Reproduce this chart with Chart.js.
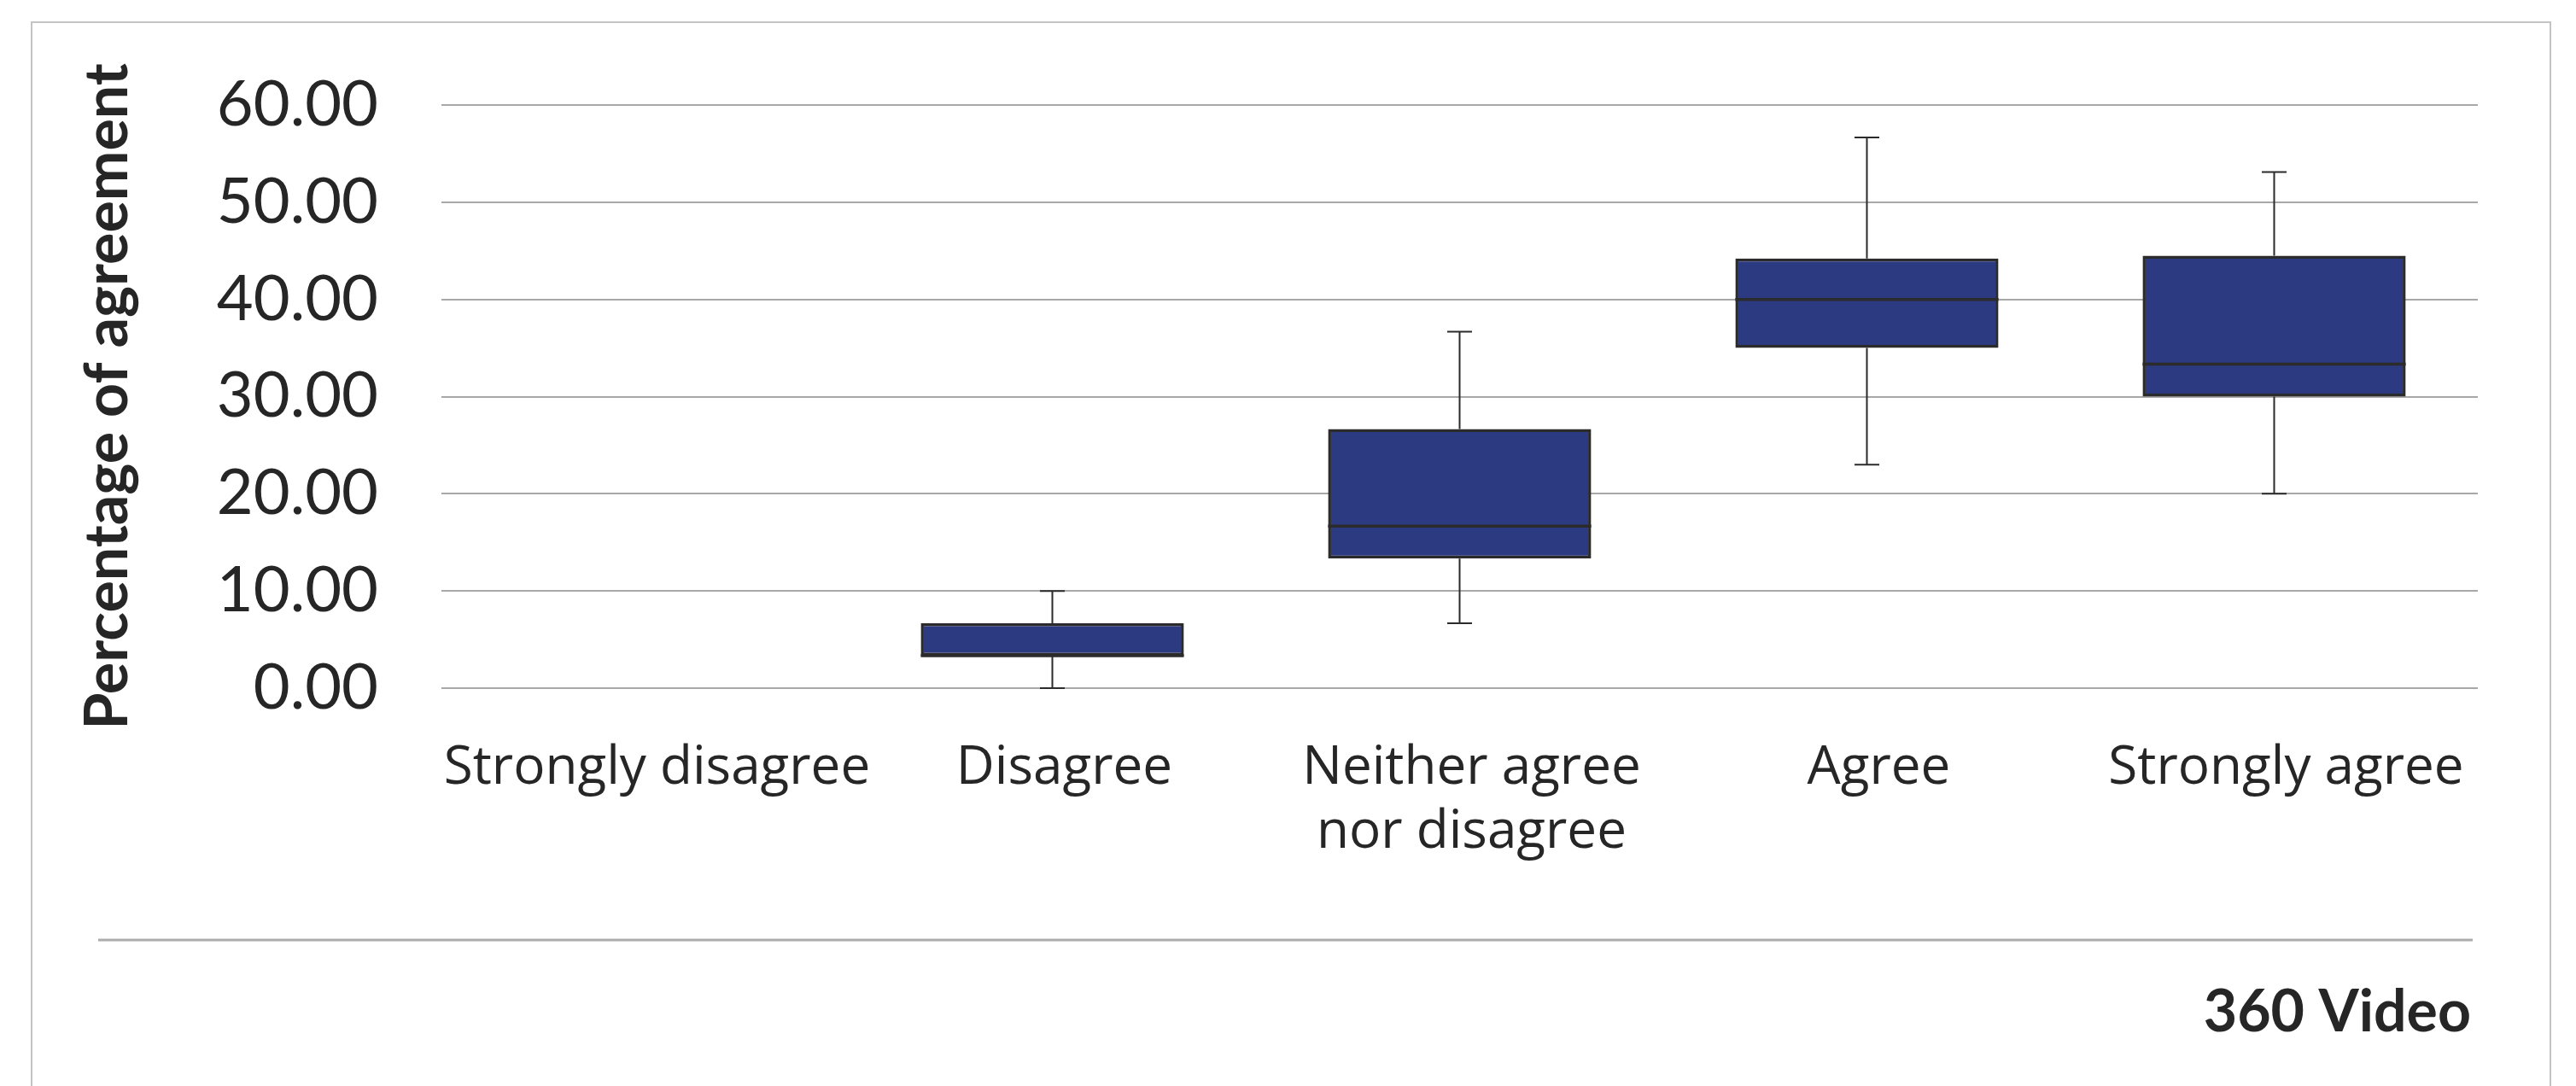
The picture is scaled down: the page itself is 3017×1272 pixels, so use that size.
<!DOCTYPE html>
<html><head><meta charset="utf-8">
<script src="https://cdn.jsdelivr.net/npm/chart.js@4.4.0/dist/chart.umd.min.js"></script>
<style>html,body{margin:0;padding:0;background:#fff;overflow:hidden}</style>
</head><body>
<canvas id="c" width="3017" height="1272" style="display:block;width:3017px;height:1272px"></canvas>
<script>
// ---- data ----
const categories = ['Strongly disagree', 'Disagree', ['Neither agree', 'nor disagree'], 'Agree', 'Strongly agree'];
const minValues    = [0, 0.00, 6.67, 23.00, 20.00];
const q1Values     = [0, 3.33, 13.33, 35.00, 30.00];
const medianValues = [0, 3.33, 16.67, 40.00, 33.33];
const q3Values     = [0, 6.67, 26.67, 44.20, 44.50];
const maxValues    = [0, 10.00, 36.67, 56.67, 53.10];
const yTicks = [0, 10, 20, 30, 40, 50, 60];
const yTitle = 'Percentage of agreement';
const footerLabel = '360 Video';

const FONT = 'Lato, "Open Sans", sans-serif';
const LABEL_FONT = '"Open Sans", Lato, sans-serif';
const TEXT = '#262626';
const BOX_FILL = '#2C3A82';
const EDGE = '#2B2B2B';

const boxPlugin = {
  id: 'boxparts',
  beforeDatasetsDraw(chart) {
    const ctx = chart.ctx, y = chart.scales.y, meta = chart.getDatasetMeta(0);
    ctx.save();
    ctx.strokeStyle = EDGE; ctx.lineWidth = 2;
    meta.data.forEach((bar, i) => {
      if (maxValues[i] === minValues[i]) return;
      const x = bar.x, cap = 14.5;
      const yMax = y.getPixelForValue(maxValues[i]), yMin = y.getPixelForValue(minValues[i]);
      const yQ3 = y.getPixelForValue(q3Values[i]), yQ1 = y.getPixelForValue(q1Values[i]);
      ctx.beginPath();
      ctx.moveTo(x, yMax); ctx.lineTo(x, yQ3);
      ctx.moveTo(x, yQ1); ctx.lineTo(x, yMin);
      ctx.moveTo(x - cap, yMax); ctx.lineTo(x + cap, yMax);
      ctx.moveTo(x - cap, yMin); ctx.lineTo(x + cap, yMin);
      ctx.stroke();
    });
    ctx.restore();
  },
  afterDatasetsDraw(chart) {
    const ctx = chart.ctx, y = chart.scales.y, meta = chart.getDatasetMeta(0);
    ctx.save();
    ctx.strokeStyle = EDGE; ctx.lineWidth = 3.5;
    meta.data.forEach((bar, i) => {
      if (q3Values[i] === q1Values[i]) return;
      const ym = y.getPixelForValue(medianValues[i]);
      const half = bar.width / 2;
      ctx.beginPath();
      ctx.moveTo(bar.x - half, ym); ctx.lineTo(bar.x + half, ym);
      ctx.stroke();
    });
    ctx.restore();
  }
};

const framePlugin = {
  id: 'frame',
  beforeDraw(chart) {
    const ctx = chart.ctx;
    ctx.save();
    ctx.fillStyle = '#ffffff';
    ctx.fillRect(0, 0, chart.width, chart.height);
    ctx.strokeStyle = '#c4c4c4'; ctx.lineWidth = 2;
    ctx.strokeRect(37, 26, 2950, 1300);
    ctx.restore();
  },
  afterDraw(chart) {
    const ctx = chart.ctx;
    ctx.save();
    ctx.strokeStyle = '#acacac'; ctx.lineWidth = 3;
    ctx.beginPath(); ctx.moveTo(115, 1101); ctx.lineTo(2896, 1101); ctx.stroke();
    ctx.fillStyle = TEXT;
    ctx.font = 'bold 68px ' + FONT;
    ctx.textAlign = 'right'; ctx.textBaseline = 'alphabetic';
    ctx.fillText(footerLabel, 2894, 1208);
    ctx.restore();
  }
};

new Chart(document.getElementById('c'), {
  type: 'bar',
  data: {
    labels: categories,
    datasets: [{
      data: q1Values.map((q, i) => [q, q3Values[i]]),
      backgroundColor: BOX_FILL,
      borderColor: EDGE,
      borderWidth: 3.5,
      borderSkipped: false,
      categoryPercentage: 1,
      barPercentage: 0.646
    }]
  },
  options: {
    responsive: false,
    devicePixelRatio: 1,
    animation: false,
    events: [],
    layout: { padding: { top: 123, right: 115, bottom: 0, left: 0 } },
    plugins: { legend: { display: false }, tooltip: { enabled: false }, title: { display: false } },
    scales: {
      x: {
        grid: { display: false, drawTicks: false },
        border: { display: false },
        ticks: { color: TEXT, font: { family: LABEL_FONT, size: 62, lineHeight: 1.21 }, padding: 57, labelOffset: 14, maxRotation: 0, autoSkip: false },
        afterFit(scale) { scale.height = 1272 - 806; }
      },
      y: {
        min: 0, max: 60,
        afterBuildTicks(scale) { scale.ticks = yTicks.map(v => ({ value: v })); },
        grid: { color: '#a8a8a8', lineWidth: 2, drawTicks: false },
        border: { display: false },
        ticks: { color: TEXT, font: { family: FONT, size: 74 }, padding: 74, callback: v => Number(v).toFixed(2) },
        title: { display: true, text: yTitle, color: TEXT, font: { family: FONT, size: 70, weight: 'bold', lineHeight: 1.2 }, padding: { top: 84, bottom: 0 } },
        afterFit(scale) { scale.width = 517; }
      }
    }
  },
  plugins: [framePlugin, boxPlugin]
});
</script>
</body></html>
